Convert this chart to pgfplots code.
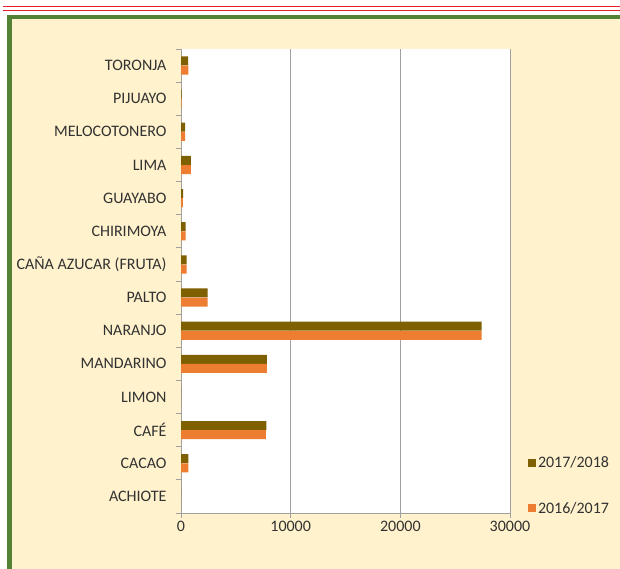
\documentclass[border=0pt]{standalone}
\usepackage{fontspec}
\setmainfont{Carlito}
\usepackage{pgfplots}
\pgfplotsset{compat=1.18}
\definecolor{cbrown}{RGB}{127,96,0}
\definecolor{corange}{RGB}{237,125,49}
\definecolor{cream}{RGB}{255,242,204}
\definecolor{fgreen}{RGB}{84,130,53}
\definecolor{lred}{RGB}{232,30,40}
\definecolor{gridc}{RGB}{160,160,160}
\definecolor{txt}{RGB}{50,50,50}
\begin{document}
\begin{tikzpicture}[x=1pt,y=1pt]
\path[use as bounding box] (0,0) rectangle (620,569);
\begin{scope}
\clip (0,0) rectangle (620,569);
\fill[white] (0,0) rectangle (620,569);
\draw[lred, line width=1.4pt] (3,562.3) -- (620,562.3);
\draw[lred, line width=1.4pt] (3,558.3) -- (620,558.3);
\draw[fgreen, fill=cream, line width=4.5pt] (9.6,-10) rectangle (640,552);
\end{scope}
\begin{axis}[
  at={(181pt,56pt)}, anchor=south west,
  scale only axis, width=329pt, height=464pt,
  xbar, bar width=9pt,
  xmin=0, xmax=30000, ymin=-0.5, ymax=13.5,
  axis x line=bottom, axis y line=left,
  x axis line style={-, draw=gridc},
  y axis line style={-, draw=gridc},
  tick align=outside,
  major tick length=5pt,
  tick style={draw=gridc, line width=0.8pt},
  xtick={0,10000,20000,30000},
  scaled x ticks=false,
  /pgf/number format/.cd, 1000 sep={}, assume math mode=true, /pgfplots/.cd,
  xmajorgrids, major grid style={draw=gridc, line width=0.8pt},
  ytick={-0.5,0.5,...,13.5}, yticklabel={\relax},
  extra y ticks={0,1,2,3,4,5,6,7,8,9,10,11,12,13},
  extra y tick labels={ACHIOTE,CACAO,CAFÉ,LIMON,MANDARINO,NARANJO,PALTO,{CAÑA AZUCAR (FRUTA)},CHIRIMOYA,GUAYABO,LIMA,MELOCOTONERO,PIJUAYO,TORONJA},
  extra y tick style={major tick length=0pt, yticklabel style={xshift=-11pt}},
  tick label style={font=\fontsize{16}{19}\selectfont, text=txt},
  axis background/.style={fill=white},
  legend style={at={(1.045,0.13)}, anchor=north west, draw=none, fill=none,
    font=\fontsize{16}{19}\selectfont, text=txt, row sep=29pt,
    legend cell align=left},
  legend image code/.code={\fill[#1] (0pt,-3.5pt) rectangle (8pt,4.5pt);},
]
\addplot[fill=cbrown, draw=none, bar shift=4.6pt] coordinates {
(0,0) (670,1) (7790,2) (0,3) (7820,4) (27420,5) (2420,6) (520,7) (430,8) (190,9) (890,10) (370,11) (50,12) (650,13)};
\addlegendentry{2017/2018}
\addplot[fill=corange, draw=none, bar shift=-4.6pt] coordinates {
(0,0) (670,1) (7730,2) (0,3) (7820,4) (27420,5) (2420,6) (520,7) (420,8) (170,9) (890,10) (370,11) (50,12) (670,13)};
\addlegendentry{2016/2017}
\end{axis}
\end{tikzpicture}
\end{document}
